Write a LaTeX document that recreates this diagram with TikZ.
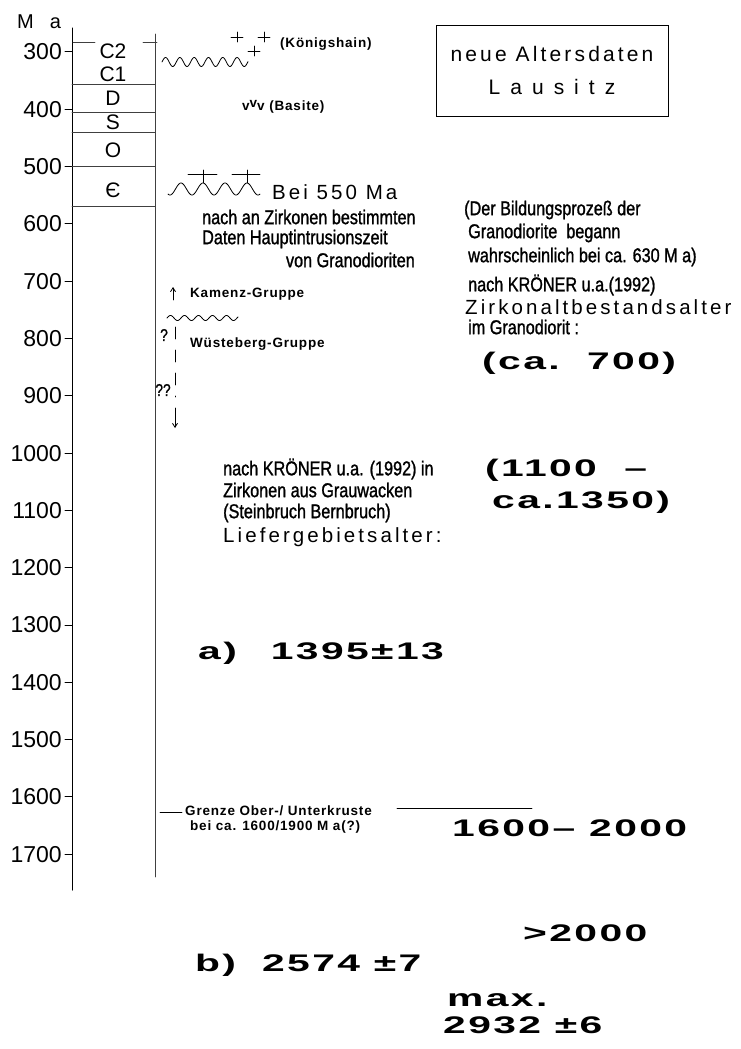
\documentclass[tikz,border=0pt]{standalone}
\usepackage{fontspec}
\setmainfont{Liberation Sans}
\newfontfamily\spacefont[LetterSpace=15]{Liberation Sans}
\newfontfamily\smlfont[LetterSpace=6]{Liberation Sans}
\newfontfamily\condfont[FakeStretch=0.81,FakeBold=1.2]{Liberation Sans}
\newfontfamily\extfont[FakeStretch=1.7,LetterSpace=10]{Liberation Sans}
\usetikzlibrary{arrows.meta}
\newcommand\fsz[1]{\fontsize{#1}{#1}\selectfont}
\newcommand\gp{\hspace{10pt}}

\begin{document}
\begin{tikzpicture}[x=1pt, y=-1pt, line cap=round,
    axis/.style={line width=1pt},
    lim/.style={line width=0.6pt, black!75},
    num/.style={anchor=east, inner sep=0pt, font=\fsz{23}},
    per/.style={inner sep=0pt, font=\fsz{21}},
    sml/.style={anchor=west, inner sep=0pt, font=\smlfont\bfseries\fsz{13.5}},
    cond/.style={anchor=west, inner sep=0pt, font=\condfont\fsz{20}},
    mid/.style={anchor=west, inner sep=0pt, font=\spacefont\fsz{20.5}},
    big/.style={anchor=west, inner sep=0pt, font=\extfont\bfseries\fsz{24}},
    wave/.style={line width=0.8pt, smooth, samples=140},
    arr/.style={-{Straight Barb[length=4pt,width=5pt]}, line width=0.8pt}
]
\useasboundingbox (0,0) rectangle (740,1049);

\node[anchor=west, inner sep=0pt, font=\fsz{20}] (ma) at (17,22) {M\hspace{16pt}a};
\foreach \v in {300,400,...,1700} {
  \node[num] (t\v) at (62,{52+(\v-300)*0.573}) {\v};
  \draw[axis] ([xshift=3pt]t\v.east) -- ++(7,0);
}
\draw[axis] (72,28) -- (72,890);
\draw[lim] (155,34) -- (155,877);
\draw[lim] (73,42) -- (95,42) (143,42) -- (157,42);
\foreach \y in {84,112,132,166,206} \draw[lim] (72,\y) -- (155,\y);
\foreach \n/\t/\y in {c2/C2/51,c1/C1/74,d/D/98,s/S/122,o/O/150,e/Є/190}
  \node[per] (\n) at (113,\y) {\t};

\node[draw, line width=0.8pt, minimum width=232pt, minimum height=91pt, align=center,
  font=\spacefont\fsz{21}] (box) at (552,70.5) {neue Altersdaten\\[12pt] L\gp a\gp u\gp s\gp i\gp t\gp z};

\draw[wave] plot[domain=162:248] (\x,{62-4.5*sin((\x-162)*25.17)});
\foreach \p in {(237,37),(264,37),(254,51)}
  \draw[line width=0.8pt] \p ++(-6,0) -- ++(12,0) \p ++(0,-5) -- ++(0,10);
\node[sml] (koe) at (280,44) {(Königshain)};
\node[sml] (bas) at (242,107) {v\raisebox{3pt}{v}v (Basite)};

\draw[wave] plot[domain=168:260] (\x,{189-6*cos((\x-203)*16.36)});
\draw[line width=0.8pt] (188,174) -- (217,174) (232,174) -- (260,174)
  (203,170) -- (203,183) (247,170) -- (247,183);
\node[mid] (bei) at (272,192) {Bei 550 Ma};
\node[cond] (n1) at (202,217) {nach an Zirkonen bestimmten};
\node[cond] (n2) at (202,239) {Daten Hauptintrusionszeit};
\node[cond, anchor=east] (n3) at (415,260) {von Granodioriten};

\node[cond] (r1) at (464,210) {(Der Bildungsprozeß der};
\node[cond] (r2) at (468,233) {Granodiorite\ \ begann};
\node[cond] (r3) at (468,257) {wahrscheinlich bei ca. 630 M a)};
\node[cond] (r4) at (468,285) {nach KRÖNER u.a.(1992)};
\node[mid] (r5) at (465,307) {Zirkonaltbestandsalter};
\node[cond] (r6) at (468,327) {im Granodiorit :};
\node[big] (r7) at (482,363) {(ca.\ \ 700)};

\coordinate (k0) at (173,300);
\coordinate (k1) at (173,287);
\draw[arr] (k0) -- (k1);
\node[sml] (kam) at (190,294) {Kamenz-Gruppe};
\draw[wave] plot[domain=167:238] (\x,{318-2.5*sin((\x-167)*25.71)});
\coordinate (w0) at (175,327);
\coordinate (w1) at (175,397);
\coordinate (w2) at (175,408);
\coordinate (w3) at (175,428);
\draw[line width=0.8pt, dash pattern=on 12pt off 11pt] (w0) -- (w1);
\draw[arr] (w2) -- (w3);
\node[sml] (wue) at (190,344) {Wüsteberg-Gruppe};
\node[inner sep=0pt, font=\condfont\fsz{17}] (q1) at (164,335) {?};
\node[inner sep=0pt, font=\condfont\fsz{17}] (q2) at (163,390) {??};

\node[cond] (l1) at (223,469) {nach KRÖNER u.a. (1992) in};
\node[cond] (l2) at (223,490) {Zirkonen aus Grauwacken};
\node[cond] (l3) at (223,513) {(Steinbruch Bernbruch)};
\node[mid] (l4) at (223,537) {Liefergebietsalter:};
\node[big] (l5) at (485,470) {(1100\ \ –};
\node[big] (l6) at (492,502) {ca.1350)};

\node[big] (ra) at (198,653) {a)\hspace{34pt}1395±13};

\coordinate (g0) at (160,812);
\coordinate (g1) at (397,808);
\coordinate (g2) at (532,808);
\node[sml] (gr) at (185,811) {Grenze Ober-/ Unterkruste};
\node[sml] (gr2) at (190,827) {bei ca. 1600/1900 M a(?)};
\draw[line width=0.8pt] (g0) -- ++(22,0);
\draw[line width=0.8pt] (g1) -- (g2);
\node[big] (b1) at (452,828) {1600–\hspace{14pt}2000};

\node[big] (b2) at (523,933) {>2000};
\node[big] (rb) at (195,965) {b)\hspace{26pt}2574 ±7};
\node[big] (b4) at (447,1000) {max.};
\node[big] (b5) at (443,1025) {2932 ±6};
\end{tikzpicture}
\end{document}
